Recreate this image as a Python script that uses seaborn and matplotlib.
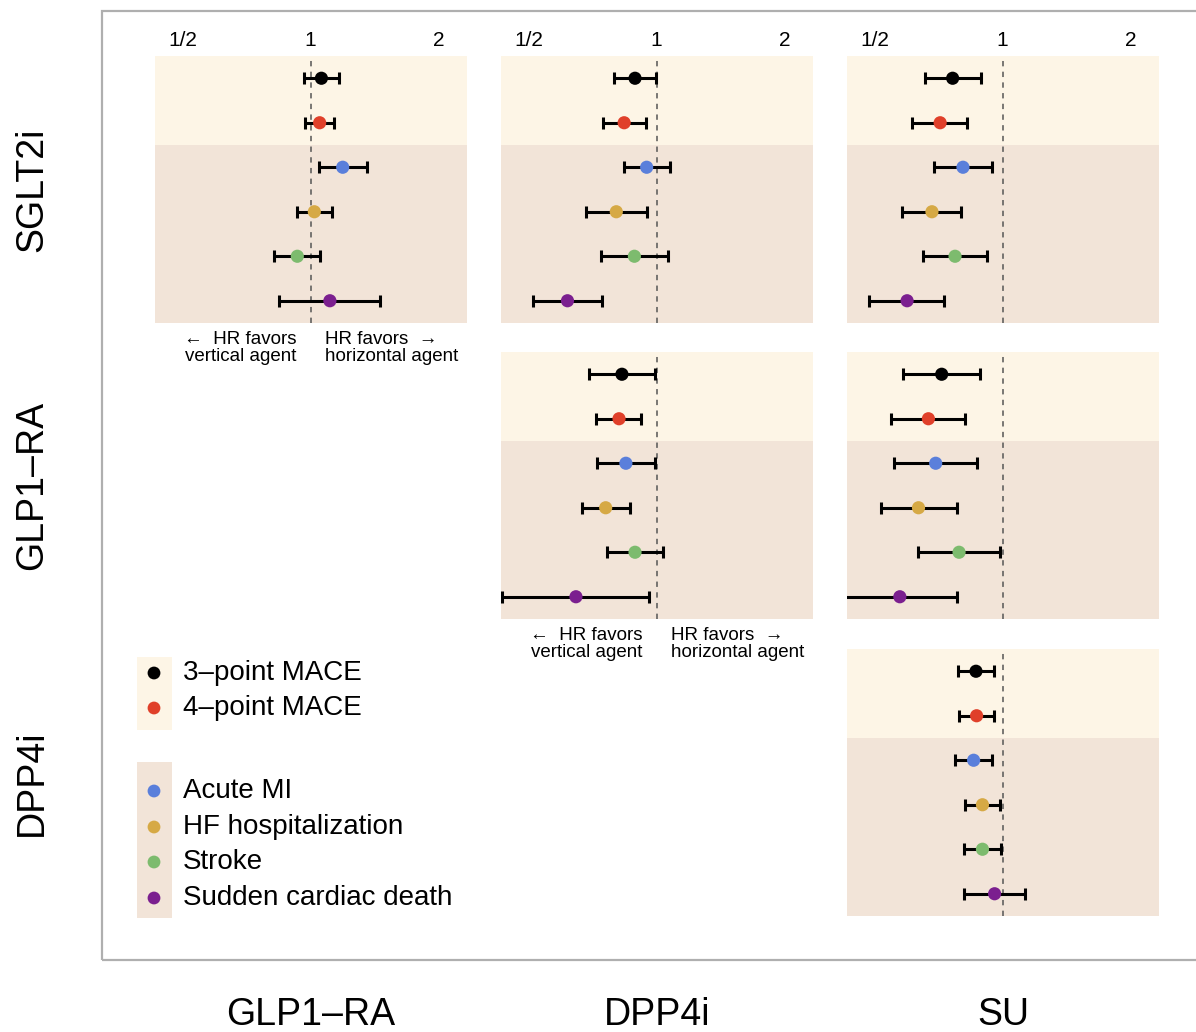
import numpy as np
import pandas as pd
import matplotlib
matplotlib.use("Agg")
import matplotlib.pyplot as plt
import seaborn as sns
from matplotlib.patches import Rectangle

sns.set_style("white")
plt.rcParams['font.family'] = ['Liberation Sans', 'DejaVu Sans']
plt.rcParams['text.color'] = 'black'
plt.rcParams['xtick.color'] = 'black'

# outcomes and colours
outcomes = ['3–point MACE', '4–point MACE', 'Acute MI', 'HF hospitalization',
            'Stroke', 'Sudden cardiac death']
colors = ['#000000', '#E0402A', '#5A7FDB', '#D6A945', '#7DBB6E', '#7B1F8F']

row_agents = ['SGLT2i', 'GLP1–RA', 'DPP4i']
col_agents = ['GLP1–RA', 'DPP4i', 'SU']

# hazard ratios (vertical agent vs horizontal agent)
sglt2_glp1_hr = [1.06, 1.05, 1.19, 1.02, 0.93, 1.11]
sglt2_glp1_lo = [0.965, 0.97, 1.046, 0.927, 0.818, 0.842]
sglt2_glp1_hi = [1.169, 1.135, 1.356, 1.121, 1.054, 1.458]

sglt2_dpp4_hr = [0.889, 0.838, 0.947, 0.803, 0.886, 0.616]
sglt2_dpp4_lo = [0.793, 0.748, 0.836, 0.681, 0.740, 0.510]
sglt2_dpp4_hi = [0.996, 0.945, 1.077, 0.947, 1.065, 0.745]

sglt2_su_hr = [0.762, 0.712, 0.806, 0.681, 0.772, 0.595]
sglt2_su_lo = [0.654, 0.612, 0.690, 0.579, 0.649, 0.484]
sglt2_su_hi = [0.889, 0.824, 0.945, 0.799, 0.919, 0.729]

glp1_dpp4_hr = [0.828, 0.815, 0.846, 0.758, 0.889, 0.645]
glp1_dpp4_lo = [0.691, 0.721, 0.724, 0.667, 0.764, 0.432]
glp1_dpp4_hi = [0.991, 0.918, 0.993, 0.865, 1.035, 0.961]

glp1_su_hr = [0.718, 0.668, 0.695, 0.633, 0.789, 0.572]
glp1_su_lo = [0.583, 0.546, 0.555, 0.515, 0.632, 0.410]
glp1_su_hi = [0.883, 0.816, 0.870, 0.779, 0.984, 0.779]

dpp4_su_hr = [0.865, 0.868, 0.854, 0.896, 0.896, 0.957]
dpp4_su_lo = [0.786, 0.790, 0.773, 0.815, 0.812, 0.812]
dpp4_su_hi = [0.952, 0.952, 0.945, 0.986, 0.991, 1.130]

panels = {
    (0, 0): (sglt2_glp1_hr, sglt2_glp1_lo, sglt2_glp1_hi),
    (0, 1): (sglt2_dpp4_hr, sglt2_dpp4_lo, sglt2_dpp4_hi),
    (0, 2): (sglt2_su_hr, sglt2_su_lo, sglt2_su_hi),
    (1, 1): (glp1_dpp4_hr, glp1_dpp4_lo, glp1_dpp4_hi),
    (1, 2): (glp1_su_hr, glp1_su_lo, glp1_su_hi),
    (2, 2): (dpp4_su_hr, dpp4_su_lo, dpp4_su_hi),
}

light_bg = '#FDF5E6'
dark_bg = '#F2E4D8'

W, H = 1196, 1032
fig = plt.figure(figsize=(W / 100, H / 100), dpi=100)


def fx(px):
    return px / W


def fy(py):
    return 1 - py / H


# outer frame
fig.add_artist(Rectangle((fx(102), fy(960)), fx(1200) - fx(102), fy(11) - fy(960),
                         transform=fig.transFigure, fill=False,
                         edgecolor='#AFAFAF', lw=1.6))

col_px = [155, 501, 847]
row_px = [56, 352, 649]
pw, ph = 312, 267
ypos = np.arange(6) + 0.5

for (r, c), (hr, lo, hi) in panels.items():
    x0, y0 = col_px[c], row_px[r]
    ax = fig.add_axes([fx(x0), fy(y0 + ph), pw / W, ph / H])
    ax.set_xscale('log', base=2)
    ax.set_xlim(2 ** -1.22, 2 ** 1.225)
    ax.set_ylim(6, 0)
    ax.axhspan(0, 2, color=light_bg, lw=0, zorder=0)
    ax.axhspan(2, 6, color=dark_bg, lw=0, zorder=0)
    ax.axvline(1, color='#555555', lw=1.1, ls=(0, (3.5, 3.5)), zorder=1)

    hr = np.array(hr)
    ax.errorbar(hr, ypos, xerr=[hr - np.array(lo), np.array(hi) - hr],
                fmt='none', ecolor='black', elinewidth=2.2, capsize=4,
                capthick=2.2, zorder=2)
    df = pd.DataFrame({'hr': hr, 'y': ypos, 'outcome': outcomes})
    sns.scatterplot(data=df, x='hr', y='y', hue='outcome', palette=colors,
                    s=90, linewidth=0, legend=False, ax=ax, zorder=3)

    for s in ax.spines.values():
        s.set_visible(False)
    ax.set_xlabel('')
    ax.set_ylabel('')
    ax.set_yticks([])
    ax.minorticks_off()
    if r == 0:
        ax.xaxis.tick_top()
        ax.set_xticks([0.5, 1, 2])
        ax.set_xticklabels(['1/2', '1', '2'], fontsize=15)
        ax.tick_params(axis='x', length=0, pad=4)
    else:
        ax.set_xticks([])

    # direction notes under the first two diagonal panels
    if r == c and r < 2:
        xc = x0 + pw * (1.22 / 2.445)
        ty = y0 + ph + 8
        fig.text(fx(xc - 14), fy(ty), '←  HR favors\nvertical agent', ha='right',
                 va='top', fontsize=13.5, linespacing=1.0)
        fig.text(fx(xc + 14), fy(ty), 'HR favors  →\nhorizontal agent', ha='left',
                 va='top', fontsize=13.5, linespacing=1.0)

# row and column agent labels
for i, name in enumerate(row_agents):
    fig.text(fx(32), fy(row_px[i] + ph / 2), name, rotation=90, ha='center',
             va='center', fontsize=27)
for i, name in enumerate(col_agents):
    fig.text(fx(col_px[i] + pw / 2), fy(1015), name, ha='center', va='center',
             fontsize=27)

# legend
lax = fig.add_axes([fx(137), fy(925), fx(480) - fx(137), fy(650) - fy(925)])
lax.set_xlim(137, 480)
lax.set_ylim(925, 650)
lax.axis('off')
lax.add_patch(Rectangle((137, 657), 35, 73, color=light_bg, lw=0))
lax.add_patch(Rectangle((137, 762), 35, 156, color=dark_bg, lw=0))
leg_y = [673, 708, 791, 827, 862, 898]
leg_df = pd.DataFrame({'x': [154] * 6, 'y': leg_y, 'outcome': outcomes})
sns.scatterplot(data=leg_df, x='x', y='y', hue='outcome', palette=colors,
                s=85, linewidth=0, legend=False, ax=lax)
for yy, name in zip(leg_y, outcomes):
    lax.text(183, yy, name, ha='left', va='center', fontsize=20)
lax.set_xlabel('')
lax.set_ylabel('')

fig.savefig('out.png', dpi=100)
